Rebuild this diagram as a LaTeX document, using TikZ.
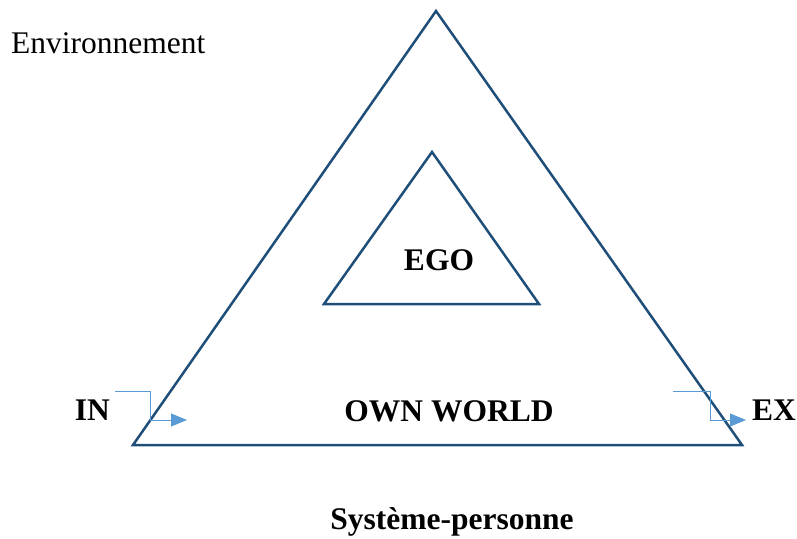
\documentclass[tikz,border=0pt]{standalone}
\usepackage{fontspec}
\setmainfont{Liberation Serif}
\usetikzlibrary{arrows.meta}
\definecolor{tridark}{RGB}{31,78,121}
\definecolor{arrowblue}{RGB}{91,155,213}
\begin{document}
\begin{tikzpicture}[x=1pt,y=-1pt,
  tri/.style={draw=tridark,line width=2.5pt,line join=miter},
  flow/.style={draw=arrowblue,line width=1pt,-{Triangle[length=16pt,width=13pt]}},
  lbl/.style={font=\fontsize{31.5}{36}\selectfont,inner sep=0pt},
  blbl/.style={lbl,font=\fontsize{31.5}{36}\selectfont\bfseries}]
\useasboundingbox (0,0) rectangle (797,538);
% outer triangle
\coordinate (oa) at (436,11);
\coordinate (ol) at (133,445);
\coordinate (or) at (742,445);
\draw[tri] (oa) -- (ol) -- (or) -- cycle;
% inner triangle
\coordinate (ia) at (432,152);
\coordinate (il) at (324,304);
\coordinate (ir) at (539,304);
\draw[tri] (ia) -- (il) -- (ir) -- cycle;
% labels
\node[lbl,anchor=base west] (env) at (11,53) {Environnement};
\node[blbl,anchor=base] (ego) at (439,270) {EGO};
\node[blbl,anchor=base] (own) at (449,421) {OWN WORLD};
\node[blbl,anchor=base east] (in) at (110,420) {IN};
\node[blbl,anchor=base west] (ex) at (752,420) {EX};
\node[blbl,anchor=base] (sys) at (452,529) {Système-personne};
% arrows
\coordinate (ins) at (115,391);
\coordinate (ine) at (187,420);
\draw[flow] (ins) -| (150,420) -- (ine);
\coordinate (exs) at (673,391);
\coordinate (exe) at (746,420);
\draw[flow] (exs) -| (710,420) -- (exe);
\end{tikzpicture}
\end{document}
